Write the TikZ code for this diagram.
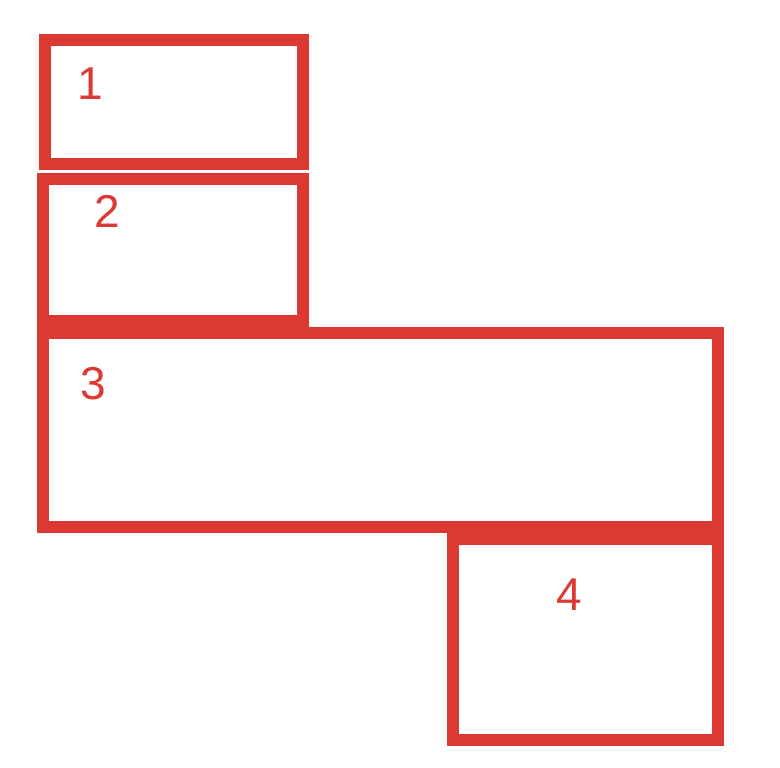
\documentclass[tikz,border=0pt]{standalone}
\usepackage{fontspec}
\setmainfont{Liberation Sans}
\definecolor{boxred}{RGB}{220,57,50}
\begin{document}
\begin{tikzpicture}[x=1pt,y=-1pt,
  roombox/.style={draw=boxred, line width=12pt, fill=none, inner sep=0pt, outer sep=0pt},
  roomlabel/.style={text=boxred, font=\fontsize{46}{46}\selectfont, inner sep=0pt}]
\useasboundingbox[fill=white] (0,0) rectangle (780,768);
\node[roombox, minimum width=258pt, minimum height=124pt] (box1) at (174,102) {};
\node[roombox, minimum width=260pt, minimum height=142pt] (box2) at (173,250) {};
\node[roombox, minimum width=675pt, minimum height=194pt] (box3) at (380.5,430) {};
\node[roombox, minimum width=265pt, minimum height=201pt] (box4) at (585.5,639.5) {};
\node[roomlabel] (l1) at (90,84) {1};
\node[roomlabel] (l2) at (107.5,211) {2};
\node[roomlabel] (l3) at (93.5,384) {3};
\node[roomlabel] (l4) at (569.5,595) {4};
\end{tikzpicture}
\end{document}
